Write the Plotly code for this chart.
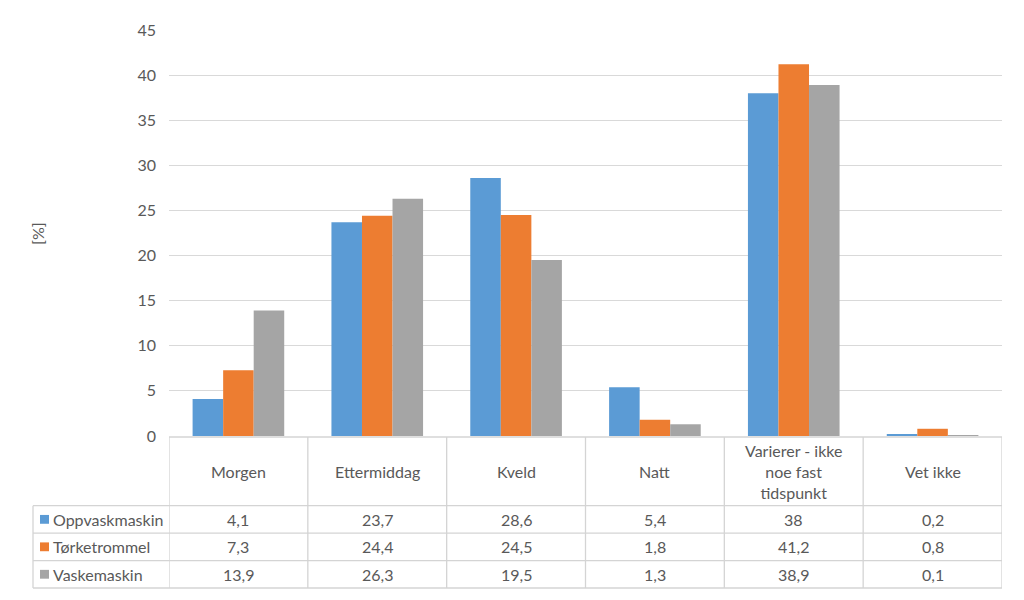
import plotly.graph_objects as go

categories = ["Morgen", "Ettermiddag", "Kveld", "Natt", "Varierer - ikke noe fast tidspunkt", "Vet ikke"]
category_labels = ["Morgen", "Ettermiddag", "Kveld", "Natt", "Varierer - ikke<br>noe fast<br>tidspunkt", "Vet ikke"]
series_names = ["Oppvaskmaskin", "Tørketrommel", "Vaskemaskin"]
oppvaskmaskin = [4.1, 23.7, 28.6, 5.4, 38, 0.2]
torketrommel = [7.3, 24.4, 24.5, 1.8, 41.2, 0.8]
vaskemaskin = [13.9, 26.3, 19.5, 1.3, 38.9, 0.1]
y_ticks = [0, 5, 10, 15, 20, 25, 30, 35, 40, 45]

colors = ["#5B9BD5", "#ED7D31", "#A5A5A5"]
series_values = [oppvaskmaskin, torketrommel, vaskemaskin]
text_color = "#595959"
line_color = "#D4D4D4"
font_family = "Lato, 'Open Sans', sans-serif"
fs = 16

O = 8  # page body offset
W, H = 1024 - O, 600 - O
ml, mr, mt, mb = 169 - O, 22, 22 - O, 164
pw = W - ml - mr
ph = H - mt - mb

def py(p):
    return (H - mb - (p - O)) / ph

def px(p):
    return ((p - O) - ml) / pw

fig = go.Figure()
for name, vals, c in zip(series_names, series_values, colors):
    fig.add_trace(go.Bar(x=categories, y=vals, name=name, marker=dict(color=c, line=dict(width=0))))

shapes = []
annotations = []

header_top = 437
header_bot = 507
row_lines = [507, 535, 563, 591]
legend_left = 33

shapes.append(dict(type="line", xref="paper", yref="paper", x0=0, x1=1, y0=py(header_top), y1=py(header_top),
                   line=dict(color=line_color, width=1.3)))
for r in row_lines:
    shapes.append(dict(type="line", xref="paper", yref="paper", x0=px(legend_left), x1=1, y0=py(r), y1=py(r),
                       line=dict(color=line_color, width=1.3)))
for i in range(len(categories) + 1):
    shapes.append(dict(type="line", xref="x", yref="paper", x0=i - 0.5, x1=i - 0.5,
                       y0=py(header_top), y1=py(row_lines[-1]), line=dict(color=line_color, width=1.3)))
shapes.append(dict(type="line", xref="paper", yref="paper", x0=px(legend_left), x1=px(legend_left),
                   y0=py(header_bot), y1=py(row_lines[-1]), line=dict(color=line_color, width=1.3)))

for cat, lab in zip(categories, category_labels):
    annotations.append(dict(x=cat, xref="x", y=py((header_top + header_bot) / 2), yref="paper",
                            text=lab, showarrow=False, xanchor="center", yanchor="middle",
                            font=dict(size=fs, color=text_color, family=font_family)))

for ri, (name, vals, c) in enumerate(zip(series_names, series_values, colors)):
    top = row_lines[ri]
    bot = row_lines[ri + 1]
    mid = (top + bot) / 2
    shapes.append(dict(type="rect", xref="paper", yref="paper", x0=px(40), x1=px(49),
                       y0=py(mid + 4.5), y1=py(mid - 4.5), fillcolor=c, line=dict(width=0)))
    annotations.append(dict(x=px(51), xref="paper", y=py(mid), yref="paper", text=name, showarrow=False,
                            xanchor="left", yanchor="middle",
                            font=dict(size=fs, color=text_color, family=font_family)))
    for cat, v in zip(categories, vals):
        annotations.append(dict(x=cat, xref="x", y=py(mid), yref="paper",
                                text=f"{v:g}".replace(".", ","), showarrow=False,
                                xanchor="center", yanchor="middle",
                                font=dict(size=fs, color=text_color, family=font_family)))

annotations.append(dict(x=px(38), xref="paper", y=py(230), yref="paper", text="[%]", textangle=-90,
                        showarrow=False, xanchor="center", yanchor="middle",
                        font=dict(size=fs, color=text_color, family=font_family)))

fig.update_layout(
    width=W, height=H,
    margin=dict(l=ml, r=mr, t=mt, b=mb),
    paper_bgcolor="white", plot_bgcolor="white",
    barmode="group", bargap=0.34, bargroupgap=0,
    showlegend=False,
    shapes=shapes, annotations=annotations,
    font=dict(family=font_family, color=text_color, size=fs),
)
fig.update_xaxes(range=[-0.5, len(categories) - 0.5], showticklabels=False, showgrid=False,
                 showline=False, zeroline=False, fixedrange=True)
fig.update_yaxes(range=[0, 45], tickvals=y_ticks, showgrid=True, gridcolor="#D9D9D9", gridwidth=1,
                 zeroline=False, showline=False, ticks="", ticklabelstandoff=12,
                 tickfont=dict(size=fs, color=text_color, family=font_family))

fig.write_html("out.html")
